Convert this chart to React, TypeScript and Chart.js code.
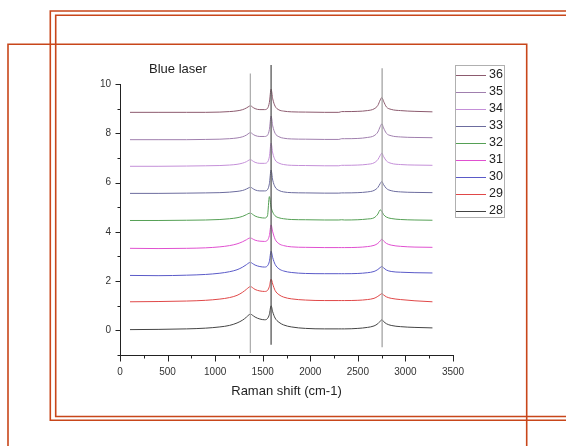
import React, { useEffect, useRef } from 'react';
import { Chart, registerables } from 'chart.js';

Chart.register(...registerables);

// Raman shift (cm-1) sample points shared by all spectra
const ramanShift = [105, 400, 700, 900, 1050, 1150, 1230, 1290, 1330, 1355, 1372, 1390, 1420, 1470, 1520, 1550, 1570, 1588, 1605, 1630, 1670, 1720, 1800, 1950, 2150, 2300, 2330, 2360, 2500, 2600, 2670, 2710, 2735, 2752, 2770, 2800, 2850, 2950, 3100, 3284];

const s28 = [0.03, 0.04, 0.06, 0.09, 0.14, 0.2, 0.3, 0.42, 0.54, 0.63, 0.66, 0.62, 0.54, 0.46, 0.43, 0.48, 0.65, 1.0, 0.75, 0.5, 0.33, 0.22, 0.14, 0.08, 0.06, 0.06, 0.06, 0.06, 0.08, 0.12, 0.18, 0.27, 0.37, 0.43, 0.36, 0.27, 0.2, 0.15, 0.12, 0.1];
const s29 = [1.16, 1.17, 1.19, 1.22, 1.27, 1.33, 1.42, 1.55, 1.67, 1.75, 1.78, 1.74, 1.66, 1.6, 1.58, 1.62, 1.78, 2.08, 1.88, 1.62, 1.45, 1.35, 1.28, 1.23, 1.21, 1.21, 1.21, 1.21, 1.22, 1.25, 1.3, 1.38, 1.45, 1.49, 1.44, 1.36, 1.3, 1.25, 1.2, 1.16];
const s30 = [2.23, 2.22, 2.24, 2.27, 2.32, 2.38, 2.46, 2.57, 2.67, 2.74, 2.76, 2.72, 2.65, 2.59, 2.57, 2.62, 2.8, 3.21, 2.95, 2.68, 2.5, 2.41, 2.35, 2.31, 2.3, 2.3, 2.3, 2.3, 2.31, 2.34, 2.39, 2.47, 2.55, 2.59, 2.54, 2.45, 2.39, 2.36, 2.34, 2.33];
const s31 = [3.33, 3.32, 3.33, 3.35, 3.39, 3.44, 3.51, 3.6, 3.68, 3.74, 3.75, 3.72, 3.66, 3.62, 3.61, 3.66, 3.85, 4.28, 4.0, 3.7, 3.52, 3.44, 3.39, 3.37, 3.36, 3.36, 3.36, 3.36, 3.37, 3.4, 3.45, 3.53, 3.63, 3.7, 3.63, 3.53, 3.46, 3.41, 3.38, 3.37];
const s32 = [4.46, 4.46, 4.47, 4.48, 4.5, 4.53, 4.57, 4.63, 4.7, 4.75, 4.76, 4.72, 4.64, 4.58, 4.56, 4.65, 5.43, 5.0, 4.8, 4.65, 4.57, 4.53, 4.5, 4.49, 4.48, 4.48, 4.49, 4.48, 4.49, 4.52, 4.57, 4.72, 4.89, 4.83, 4.7, 4.6, 4.54, 4.5, 4.48, 4.47];
const s33 = [5.56, 5.56, 5.57, 5.58, 5.59, 5.61, 5.64, 5.68, 5.74, 5.79, 5.81, 5.77, 5.7, 5.66, 5.66, 5.71, 5.95, 6.51, 6.1, 5.82, 5.68, 5.62, 5.59, 5.58, 5.57, 5.57, 5.58, 5.58, 5.59, 5.62, 5.68, 5.8, 5.96, 6.04, 5.92, 5.76, 5.67, 5.62, 5.6, 5.59];
const s34 = [6.66, 6.66, 6.67, 6.68, 6.69, 6.71, 6.74, 6.79, 6.85, 6.91, 6.93, 6.89, 6.82, 6.78, 6.78, 6.83, 7.05, 7.6, 7.2, 6.92, 6.79, 6.73, 6.7, 6.69, 6.68, 6.68, 6.7, 6.7, 6.71, 6.74, 6.8, 6.93, 7.1, 7.19, 7.06, 6.88, 6.78, 6.73, 6.71, 6.7];
const s35 = [7.74, 7.74, 7.74, 7.75, 7.76, 7.78, 7.81, 7.86, 7.93, 8.0, 8.03, 7.98, 7.91, 7.87, 7.87, 7.92, 8.15, 8.7, 8.3, 8.0, 7.86, 7.8, 7.77, 7.76, 7.75, 7.75, 7.78, 7.78, 7.79, 7.83, 7.9, 8.05, 8.27, 8.38, 8.22, 8.0, 7.9, 7.85, 7.83, 7.82];
const s36 = [8.85, 8.85, 8.85, 8.85, 8.86, 8.88, 8.91, 8.96, 9.03, 9.09, 9.12, 9.07, 9.0, 8.96, 8.96, 9.01, 9.25, 9.79, 9.4, 9.1, 8.95, 8.9, 8.87, 8.86, 8.85, 8.85, 8.88, 8.88, 8.89, 8.92, 8.99, 9.13, 9.35, 9.45, 9.3, 9.07, 8.97, 8.92, 8.89, 8.87];

const seriesLabels = ['36', '35', '34', '33', '32', '31', '30', '29', '28'];
const seriesValues = [s36, s35, s34, s33, s32, s31, s30, s29, s28];
const seriesColors = ['#8c5a6e', '#a07fae', '#c48fd8', '#6c6c9e', '#55a055', '#e050d0', '#5a5ac8', '#e04848', '#444444'];

// vertical reference lines (D, G, 2D bands)
const refShift = [1370, 1588, 2755];
const refTop = [10.43, 10.77, 10.64];
const refBottom = [-0.92, -0.58, -0.69];
const refColors = ['#ababab', '#4a4a4a', '#9c9c9c'];

const xTickLabels = [0, 500, 1000, 1500, 2000, 2500, 3000, 3500];
const yTickLabels = [0, 2, 4, 6, 8, 10];

const FONT = '"Liberation Sans", Arial, sans-serif';

const decorPlugin = {
  id: 'decor',
  afterDraw(chart: any) {
    const ctx = chart.ctx;
    const xs = chart.scales.x;
    const ys = chart.scales.y;
    const area = chart.chartArea;
    ctx.save();
    // tick marks (major + minor, outward)
    ctx.strokeStyle = '#222';
    ctx.lineWidth = 1;
    const left = Math.round(area.left) + 0.5;
    const bottom = Math.round(area.bottom) + 0.5;
    for (let v = ys.min; v <= ys.max; v += 1) {
      const py = Math.round(ys.getPixelForValue(v)) + 0.5;
      const len = yTickLabels.includes(v) ? 5 : 3;
      ctx.beginPath();
      ctx.moveTo(left - len, py);
      ctx.lineTo(left, py);
      ctx.stroke();
    }
    for (let v = xs.min; v <= xs.max; v += 250) {
      const px = Math.round(xs.getPixelForValue(v)) + 0.5;
      const len = xTickLabels.includes(v) ? 6 : 3;
      ctx.beginPath();
      ctx.moveTo(px, bottom);
      ctx.lineTo(px, bottom + len);
      ctx.stroke();
    }
    // annotation
    ctx.fillStyle = '#222';
    ctx.font = '13px ' + FONT;
    ctx.textBaseline = 'middle';
    ctx.textAlign = 'left';
    ctx.fillText('Blue laser', 149, 69);
    // legend
    ctx.strokeStyle = '#b0b0b0';
    ctx.strokeRect(455.5, 65.5, 49, 152);
    ctx.font = '12.5px ' + FONT;
    seriesLabels.forEach((lab, i) => {
      const yy = 75 + i * 16.96;
      ctx.strokeStyle = seriesColors[i];
      ctx.beginPath();
      ctx.moveTo(456, Math.round(yy) + 0.5);
      ctx.lineTo(486, Math.round(yy) + 0.5);
      ctx.stroke();
      ctx.fillStyle = '#222';
      ctx.fillText(lab, 489, yy);
    });
    // orange frames from the screenshot
    ctx.strokeStyle = '#c8461a';
    ctx.lineWidth = 1.6;
    ctx.beginPath();
    ctx.moveTo(566, 11);
    ctx.lineTo(50.3, 11);
    ctx.lineTo(50.3, 420.2);
    ctx.lineTo(566, 420.2);
    ctx.stroke();
    ctx.beginPath();
    ctx.moveTo(566, 15.3);
    ctx.lineTo(55.7, 15.3);
    ctx.lineTo(55.7, 416.5);
    ctx.lineTo(566, 416.5);
    ctx.stroke();
    ctx.beginPath();
    ctx.moveTo(8, 446);
    ctx.lineTo(8, 44.3);
    ctx.lineTo(526.7, 44.3);
    ctx.lineTo(526.7, 446);
    ctx.stroke();
    ctx.restore();
  },
};

export default function App() {
  const ref = useRef<HTMLCanvasElement | null>(null);
  useEffect(() => {
    if (!ref.current) return;
    const spectra = seriesValues.map((vals, i) => ({
      label: seriesLabels[i],
      data: vals.map((v, j) => ({ x: ramanShift[j], y: v })),
      borderColor: seriesColors[i],
      borderWidth: 1,
      pointRadius: 0,
      fill: false,
      cubicInterpolationMode: 'monotone' as const,
    }));
    const refs = refShift.map((s, i) => ({
      label: 'ref' + s,
      data: [
        { x: s, y: refTop[i] },
        { x: s, y: refBottom[i] },
      ],
      borderColor: refColors[i],
      borderWidth: 1.2,
      pointRadius: 0,
      fill: false,
      clip: false as const,
    }));
    const chart = new Chart(ref.current, {
      type: 'line',
      data: { datasets: [...refs, ...spectra] as any },
      options: {
        animation: false,
        responsive: false,
        devicePixelRatio: 1,
        layout: { padding: { left: 0, top: 84, right: 113, bottom: 0 } },
        plugins: { legend: { display: false }, tooltip: { enabled: false } },
        scales: {
          x: {
            type: 'linear',
            min: 0,
            max: 3500,
            afterFit: (s: any) => {
              s.height = 91;
            },
            grid: { display: false, drawTicks: false },
            border: { display: true, color: '#222', width: 1 },
            ticks: {
              stepSize: 250,
              autoSkip: false,
              maxRotation: 0,
              padding: 11,
              color: '#333',
              font: { family: FONT, size: 10 },
              callback: (v: any) => (xTickLabels.includes(v) ? String(v) : ''),
            },
            title: {
              display: true,
              text: 'Raman shift (cm-1)',
              color: '#222',
              font: { family: FONT, size: 13 },
              padding: { top: 0, bottom: 46.5 },
            },
          },
          y: {
            type: 'linear',
            min: -1,
            max: 10,
            afterFit: (s: any) => {
              s.width = 120;
            },
            grid: { display: false, drawTicks: false },
            border: { display: true, color: '#222', width: 1 },
            ticks: {
              stepSize: 1,
              autoSkip: false,
              padding: 9,
              color: '#333',
              font: { family: FONT, size: 10 },
              callback: (v: any) => (yTickLabels.includes(v) ? String(v) : ''),
            },
          },
        },
      },
      plugins: [decorPlugin],
    });
    return () => chart.destroy();
  }, []);
  return (
    <div style={{ position: 'fixed', left: 0, top: 0, width: 566, height: 446, background: '#fff' }}>
      <canvas ref={ref} width={566} height={446} style={{ display: 'block' }} />
    </div>
  );
}
